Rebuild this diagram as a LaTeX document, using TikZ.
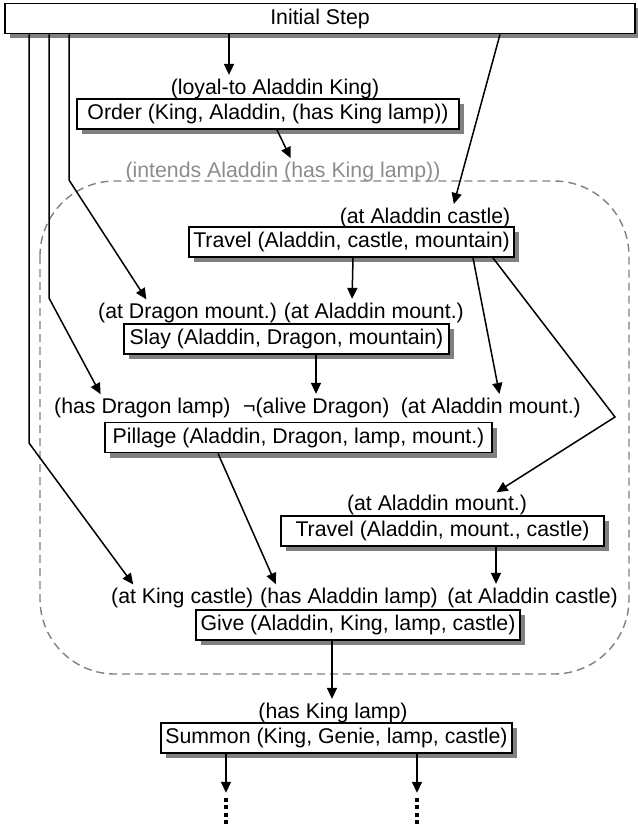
\documentclass[tikz,border=0pt]{standalone}
\usepackage{fontspec}
\setmainfont{Liberation Sans}
\usetikzlibrary{arrows.meta,shadows}

\begin{document}
\begin{tikzpicture}[x=1pt,y=-1pt,>={Triangle[length=11pt,width=10pt]},
	font=\fontsize{21.3}{24}\selectfont,
	act/.style={draw,line width=1.9pt,fill=white,minimum height=30pt,inner sep=0pt,
		drop shadow={shadow xshift=5pt,shadow yshift=-5pt,fill=black!50,opacity=1}},
	cond/.style={inner sep=1pt},
	link/.style={->,line width=1.5pt,shorten >=3pt},
	etc/.style={inner sep=0pt,minimum width=4.5pt,minimum height=28pt,
		path picture={\draw[line width=4pt,dash pattern=on 4pt off 3.5pt]
			(path picture bounding box.south) -- (path picture bounding box.north);}}]

\useasboundingbox (0,0) rectangle (637,832);

% the plan of Aladdin
\draw[black!50,line width=1.4pt,dash pattern=on 8pt off 5pt,rounded corners=75pt] (40,181) rectangle (629,674);

\node[act,minimum width=630pt] (init) at (320,18.5) {Initial Step};
\node[act,minimum width=382pt] (order) at (268,114) {Order (King, Aladdin, (has King lamp))};
\node[act,minimum width=325pt] (trav1) at (351.5,242) {Travel (Aladdin, castle, mountain)};
\node[act,minimum width=325pt] (slay) at (286.5,339) {Slay (Aladdin, Dragon, mountain)};
\node[act,minimum width=387pt] (pill) at (298.5,437.5) {Pillage (Aladdin, Dragon, lamp, mount.)};
\node[act,minimum width=323pt] (trav2) at (442.5,531) {Travel (Aladdin, mount., castle)};
\node[act,minimum width=324pt] (give) at (358,625) {Give (Aladdin, King, lamp, castle)};
\node[act,minimum width=351pt] (summ) at (336.5,738) {Summon (King, Genie, lamp, castle)};

% preconditions
\node[cond] (loyal) at (275,89) {(loyal-to Aladdin King)};
\node[cond,text=black!45] (intends) at (283,172) {(intends Aladdin (has King lamp))};
\node[cond] (atcas1) at (425,218) {(at Aladdin castle)};
\node[cond,anchor=west] (atdrag) at (97,313) {(at Dragon mount.)};
\node[cond,anchor=east] (atmnt1) at (465,313) {(at Aladdin mount.)};
\node[cond,anchor=west] (hasdrag) at (53,408) {(has Dragon lamp)};
\node[cond,anchor=west] (dead) at (242,408) {¬(alive Dragon)};
\node[cond,anchor=east] (atmnt2) at (582,408) {(at Aladdin mount.)};
\node[cond] (atmnt3) at (437,505) {(at Aladdin mount.)};
\node[cond,anchor=west] (atking) at (110,598) {(at King castle)};
\node[cond,anchor=west] (haslamp) at (259,598) {(has Aladdin lamp)};
\node[cond,anchor=east] (atcas2) at (619,598) {(at Aladdin castle)};
\node[cond] (hasking) at (333,713) {(has King lamp)};

\node[etc] (more1) at (226,810) {};
\node[etc] (more2) at (417,810) {};

\coordinate (k1) at (69,180);
\coordinate (k2) at (49,298);
\coordinate (k3) at (29,443);
\coordinate (k4) at (615,417);

% causal links
\draw[link] ([xshift=-91pt]init.south) -- ([xshift=-46pt]loyal.north);
\draw[link] ([xshift=180pt]init.south) -- ([xshift=28pt]atcas1.north);
\draw[link] ([xshift=-251pt]init.south) -- (k1) -- ([xshift=51pt]atdrag.north west);
\draw[link] ([xshift=-271pt]init.south) -- (k2) -- ([xshift=49pt]hasdrag.north west);
\draw[link] ([xshift=-291pt]init.south) -- (k3) -- ([xshift=25pt]atking.north west);
\draw[link] ([xshift=9pt]order.south) -- ([xshift=9pt]intends.north);
\draw[link] ([xshift=1.5pt]trav1.south) -- ([xshift=-113pt]atmnt1.north east);
\draw[link] ([xshift=121.5pt]trav1.south) -- ([xshift=-82pt]atmnt2.north east);
\draw[link] ([xshift=141.5pt]trav1.south) -- (k4) -- ([xshift=57pt]atmnt3.north);
\draw[link] ([xshift=29.5pt]slay.south) -- ([xshift=74pt]dead.north west);
\draw[link] ([xshift=-80.5pt]pill.south) -- ([xshift=18pt]haslamp.north west);
\draw[link] ([xshift=53.5pt]trav2.south) -- ([xshift=-123pt]atcas2.north east);
\draw[link] ([xshift=-26pt]give.south) -- ([xshift=-1pt]hasking.north);
\draw[link] ([xshift=-110.5pt]summ.south) -- (more1);
\draw[link] ([xshift=80.5pt]summ.south) -- (more2);
\end{tikzpicture}
\end{document}
